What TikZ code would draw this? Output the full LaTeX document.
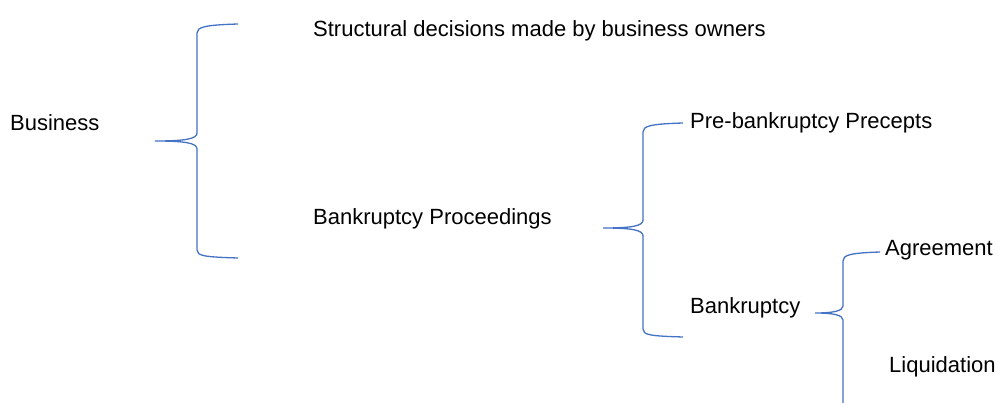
\documentclass[tikz,border=0pt]{standalone}
\usepackage{fontspec}
\setmainfont{Liberation Sans}
\begin{document}
\begin{tikzpicture}[x=1pt,y=-1pt,
  lbl/.style={anchor=west,inner sep=0pt,font=\fontsize{22}{26}\selectfont},
  brace/.style={draw={rgb,255:red,68;green,114;blue,196},line width=1.3pt}]
\useasboundingbox (0,0) rectangle (998,403);
\fill[white] (0,0) rectangle (998,403);
% texts
\node[lbl] (bus) at (10,123) {Business};
\node[lbl] (struct) at (313,31) {Structural decisions made by business owners};
\node[lbl] (bproc) at (313,219) {Bankruptcy Proceedings};
\node[lbl] (pre) at (690,123) {Pre-bankruptcy Precepts};
\node[lbl] (bank) at (690,308) {Bankruptcy};
\node[lbl] (agr) at (885,250) {Agreement};
\node[lbl] (liq) at (889,367) {Liquidation};
% brace 1
\coordinate (b1t) at (238,24);
\coordinate (b1m) at (155,141);
\coordinate (b1b) at (238,258);
\draw[brace] (b1t) .. controls (205,25) and (197,27) .. (197,33) -- (197,133)
  .. controls (197,139) and (185,141) .. (b1m)
  .. controls (185,141) and (197,143) .. (197,149) -- (197,250)
  .. controls (197,256) and (205,257) .. (b1b);
% brace 2
\coordinate (b2t) at (683,123);
\coordinate (b2m) at (603,228);
\coordinate (b2b) at (683,337);
\draw[brace] (b2t) .. controls (650,124) and (643,126) .. (643,132) -- (643,220)
  .. controls (643,226) and (632,228) .. (b2m)
  .. controls (632,228) and (643,230) .. (643,236) -- (643,329)
  .. controls (643,335) and (650,336) .. (b2b);
% brace 3
\coordinate (b3t) at (880,252);
\coordinate (b3m) at (815,313);
\coordinate (b3b) at (843,410);
\draw[brace] (b3t) .. controls (850,253) and (843,255) .. (843,261) -- (843,306)
  .. controls (843,311) and (833,313) .. (b3m)
  .. controls (833,313) and (843,315) .. (843,320) -- (b3b);
\end{tikzpicture}
\end{document}
